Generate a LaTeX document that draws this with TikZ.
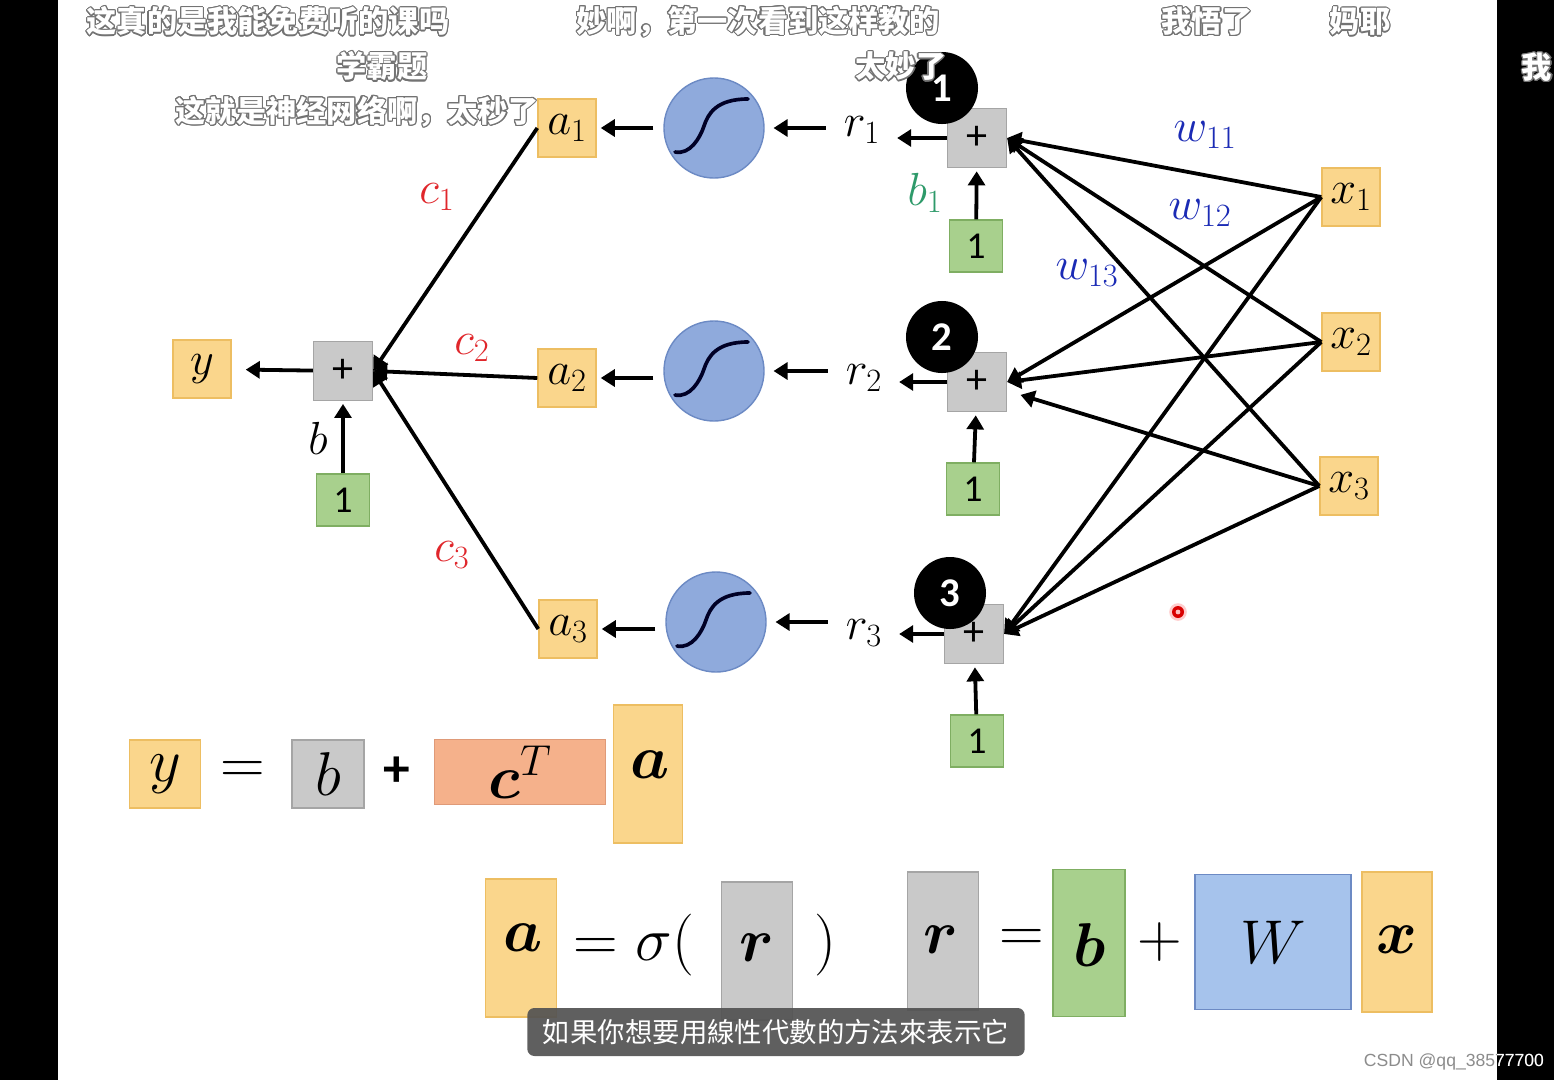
\RequirePackage{fix-cm}
\documentclass[tikz,border=0pt]{standalone}
\usepackage{amsmath,bm}
\usepackage{fontspec}
\usepackage{contour}
\usetikzlibrary{arrows.meta,positioning,backgrounds}

\newfontfamily\cjkfont{Noto Sans CJK SC}
\newfontfamily\tcfont{Noto Sans CJK TC}
\newfontfamily\calfont{Carlito}
\newfontfamily\wmfont{Liberation Sans}
\contourlength{0.8pt}

\definecolor{boxyellow}{HTML}{FAD68C}
\definecolor{lineyellow}{HTML}{EDBE62}
\definecolor{boxgray}{HTML}{C9C9C9}
\definecolor{linegray}{HTML}{A5A5A5}
\definecolor{boxgreen}{HTML}{A8D08D}
\definecolor{linegreen}{HTML}{7FAE62}
\definecolor{sigblue}{HTML}{8FAADC}
\definecolor{lineblue}{HTML}{6C8AC4}
\definecolor{boxblue}{HTML}{A6C3EC}
\definecolor{boxsalmon}{HTML}{F5B18B}
\definecolor{linesalmon}{HTML}{DF9A78}
\definecolor{cred}{HTML}{E0262B}
\definecolor{wblue}{HTML}{1B2BB5}
\definecolor{bgreen}{HTML}{2E9A6A}

\begin{document}
\begin{tikzpicture}[x=0.025cm, y=-0.025cm,
    every node/.style={inner sep=0pt, font=\fontsize{33}{38}\selectfont},
    yel/.style={draw=lineyellow, fill=boxyellow, line width=1pt},
    gry/.style={draw=linegray, fill=boxgray, line width=1pt},
    grn/.style={draw=linegreen, fill=boxgreen, line width=1pt},
    varbox/.style={yel, minimum size=1.45cm},
    sumbox/.style={gry, minimum size=1.47cm, font=\calfont\fontsize{30}{30}\selectfont},
    onebox/.style={grn, minimum width=1.33cm, minimum height=1.3cm, font=\calfont\fontsize{27}{27}\selectfont},
    sigmoid/.style={circle, draw=lineblue, fill=sigblue, line width=1pt, minimum size=2.5cm},
    badge/.style={circle, fill=black, text=white, minimum size=1.8cm, font=\calfont\bfseries\fontsize{29}{29}\selectfont},
    tall/.style={minimum width=1.78cm, minimum height=3.45cm},
    conn/.style={line width=2.7pt, -{Triangle[length=10pt, width=12pt]}},
    sigline/.style={line width=2.6pt, draw=black!85!blue, line cap=round},
    eqtext/.style={font=\fontsize{44}{50}\selectfont},
    danmu/.style={text=white, font=\cjkfont\bfseries\fontsize{21.5}{24}\selectfont},
  ]
    % white background and black bars
    \begin{scope}[on background layer]
        \fill [white] (0,0) rectangle (1554,1080);
        \fill [black] (0,0) rectangle (58,1080);
        \fill [black] (1497,0) rectangle (1554,1080);
    \end{scope}
    \useasboundingbox (0,0) rectangle (1554,1080);

    % output part
    \node (y) [varbox] at (202,369) {$y$};
    \node (sumout) [sumbox] at (343,371) {+};
    \node (oneout) [onebox] at (343,500) {1};
    \node (b) at (318,438) {$b$};

    % hidden units
    \node (a1) [varbox] at (567,128) {$a_1$};
    \node (a2) [varbox] at (567,378) {$a_2$};
    \node (a3) [varbox] at (568,629) {$a_3$};
    \node (sig1) [sigmoid] at (714,128) {};
    \node (sig2) [sigmoid] at (714,371) {};
    \node (sig3) [sigmoid] at (716,622) {};
    \node (r1) at (862,130) {$r_1$};
    \node (r2) at (864,378) {$r_2$};
    \node (r3) at (864,633) {$r_3$};
    \node (sum1) [sumbox] at (977,138) {+};
    \node (sum2) [sumbox] at (977,382) {+};
    \node (sum3) [sumbox] at (974,634) {+};
    \node (one1) [onebox] at (976,246) {1};
    \node (one2) [onebox] at (973,489) {1};
    \node (one3) [onebox] at (977,741) {1};

    % inputs
    \node (x1) [varbox] at (1351,197) {$x_1$};
    \node (x2) [varbox] at (1351,342) {$x_2$};
    \node (x3) [varbox] at (1349,486) {$x_3$};

    % weights
    \node (c1) [text=cred] at (437,197) {$c_1$};
    \node (c2) [text=cred] at (472,348) {$c_2$};
    \node (c3) [text=cred] at (452,555) {$c_3$};
    \node (b1) [text=bgreen] at (925,193) {$b_1$};
    \node (w11) [text=wblue] at (1205,135) {$w_{11}$};
    \node (w12) [text=wblue] at (1200,213) {$w_{12}$};
    \node (w13) [text=wblue] at (1087,273) {$w_{13}$};

    % arrows
    \draw[conn, shorten >=0.35cm] (sumout) -- (y);
    \draw[conn, shorten >=0.07cm] (oneout) -- (sumout);
    \foreach \i in {1,2,3} {
        \draw[conn] (a\i.west) -- (sumout.east);
        \draw[conn, shorten <=0.25cm, shorten >=0.1cm] (sig\i.west |- a\i) -- (a\i.east);
        \draw[conn, shorten <=0.45cm, shorten >=0.22cm] (r\i.west |- sig\i) -- (sig\i.east);
        \draw[conn, shorten >=0.42cm] (sum\i.west) -- (r\i.east |- sum\i.west);
        \draw[conn, shorten >=0.08cm] (one\i) -- (sum\i);
        \draw[sigline] ([shift={(-39,24)}]sig\i.center) .. controls ([shift={(-24,27)}]sig\i.center) and ([shift={(-14,10)}]sig\i.center) .. ([shift={(-10,-2)}]sig\i.center) .. controls ([shift={(-6,-14)}]sig\i.center) and ([shift={(2,-29)}]sig\i.center) .. ([shift={(34,-29)}]sig\i.center);
    }
    \foreach \j in {1,2,3} {
        \draw[conn] (x\j.west) -- (sum1.east);
        \draw[conn] (x\j.west) -- (sum3.east);
    }
    \draw[conn] (x1.west) -- (sum2.east);
    \draw[conn] (x2.west) -- (sum2.east);
    \draw[conn, shorten >=0.35cm] (x3.west) -- ([yshift=-0.22cm]sum2.east);

    % numbered badges
    \node (badge1) [badge] at (942,88) {1};
    \node (badge2) [badge] at (942,337) {2};
    \node (badge3) [badge] at (950,593) {3};

    % y = b + c^T a
    \node (eqy) [yel, minimum width=1.78cm, minimum height=1.7cm, eqtext] at (165,774) {$y$};
    \node (eqis1) [eqtext] at (243,772) {$=$};
    \node (eqb) [gry, minimum width=1.8cm, minimum height=1.7cm, eqtext] at (328,774) {$b$};
    \node (eqplus1) [font=\calfont\bfseries\fontsize{38}{38}\selectfont] at (397,772) {+};
    \node (eqc) [draw=linesalmon, fill=boxsalmon, line width=1pt, minimum width=4.28cm, minimum height=1.63cm, eqtext] at (520,772) {$\bm{c}^T$};
    \node (eqa) [yel, minimum width=1.73cm, minimum height=3.45cm] at (648,774) {};
    \node (eqatext) [eqtext] at (650,765) {$\bm{a}$};

    % a = sigma(r)   r = b + W x
    \node (acol) [yel, tall] at (521,948) {};
    \node (acoltext) [eqtext] at (523,938) {$\bm{a}$};
    \node (sigma) [eqtext] at (634,945) {$=\sigma($};
    \node (rcol1) [gry, tall] at (757,951) {};
    \node (rcol1text) [eqtext] at (757,948) {$\bm{r}$};
    \node (close) [eqtext] at (825,945) {$)$};
    \node (rcol2) [gry, tall] at (943,941) {};
    \node (rcol2text) [eqtext] at (941,940) {$\bm{r}$};
    \node (eqis2) [eqtext] at (1022,940) {$=$};
    \node (bcol) [grn, minimum width=1.8cm, minimum height=3.68cm] at (1089,943) {};
    \node (bcoltext) [eqtext] at (1090,945) {$\bm{b}$};
    \node (eqplus2) [eqtext] at (1160,942) {$+$};
    \node (wmat) [draw=lineblue, fill=boxblue, line width=1pt, minimum width=3.9cm, minimum height=3.38cm, eqtext] at (1273,942) {$W$};
    \node (xcol) [yel, minimum width=1.75cm, minimum height=3.5cm] at (1397,942) {};
    \node (xcoltext) [eqtext] at (1397,940) {$\bm{x}$};

    % cursor
    \fill[red!20] (1178,612) circle [radius=0.22cm];
    \fill[red!85!black] (1178,612) circle [radius=0.15cm];
    \fill[white!75!red] (1178,612) circle [radius=0.06cm];

    % subtitle and watermark
    \node (subtitle) [fill=black!68, fill opacity=0.92, text opacity=1, text=white, rounded corners=5pt, minimum width=12.43cm, minimum height=1.2cm, font=\tcfont\fontsize{19.5}{22}\selectfont] at (776,1032) {如果你想要用線性代數的方法來表示它};
    \node (wm) [text=black!45, font=\wmfont\fontsize{12.5}{14}\selectfont] at (1454,1062) {CSDN @qq\_38577700};
    \begin{scope}
        \clip (1497,1040) rectangle (1554,1080);
        \node (wmwhite) [text=white, font=\wmfont\fontsize{12.5}{14}\selectfont] at (1454,1062) {CSDN @qq\_38577700};
    \end{scope}

    % bullet comments
    \node (dm1) [danmu] at (268,22) {\contour{black!55}{这真的是我能免费听的课吗}};
    \node (dm2) [danmu] at (382,67) {\contour{black!55}{学霸题}};
    \node (dm3) [danmu] at (357,112) {\contour{black!55}{这就是神经网络啊，太秒了}};
    \node (dm4) [danmu] at (758,22) {\contour{black!55}{妙啊，第一次看到这样教的}};
    \node (dm5) [danmu] at (901,67) {\contour{black!55}{太妙了}};
    \node (dm6) [danmu] at (1207,22) {\contour{black!55}{我悟了}};
    \node (dm7) [danmu] at (1360,22) {\contour{black!55}{妈耶}};
    \node (dm8) [danmu] at (1537,68) {\contour{black!55}{我}};
\end{tikzpicture}
\end{document}
